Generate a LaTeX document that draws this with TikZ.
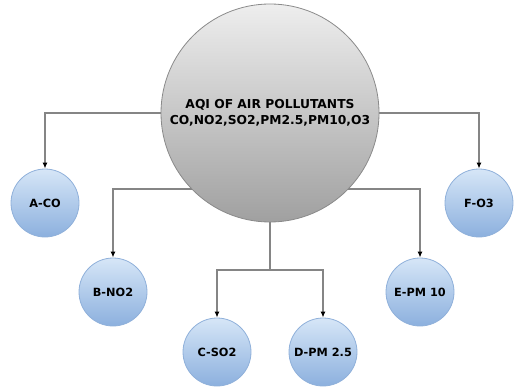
\documentclass[tikz,border=0pt]{standalone}
\usepackage{fontspec}
\setmainfont{DejaVu Sans}
\usetikzlibrary{arrows.meta,backgrounds}
\definecolor{bigtop}{HTML}{EEEEEE}
\definecolor{bigbot}{HTML}{A0A0A0}
\definecolor{bigedge}{HTML}{8A8A8A}
\definecolor{smtop}{HTML}{D6E6F7}
\definecolor{smbot}{HTML}{8CB0DE}
\definecolor{smedge}{HTML}{8FB0DA}
\definecolor{linec}{HTML}{858585}
\tikzset{
  bigcirc/.style={circle, draw=bigedge, line width=0.8pt, top color=bigtop, bottom color=bigbot, minimum size=218pt, inner sep=0pt, align=center, font=\fontsize{12.3pt}{16.5pt}\bfseries},
  smcirc/.style={circle, draw=smedge, line width=0.8pt, top color=smtop, bottom color=smbot, minimum size=68pt, inner sep=0pt, font=\fontsize{11.3pt}{13pt}\bfseries},
  conn/.style={draw=linec, line width=1.3pt, -{Latex[length=6pt,width=5pt,color=black]}},
  plain/.style={draw=linec, line width=1.3pt}
}
\begin{document}
\begin{tikzpicture}[x=1pt,y=-1pt]
\useasboundingbox (0,0) rectangle (518,387);
\node[bigcirc] (big) at (270,113) {AQI OF AIR POLLUTANTS\\CO,NO2,SO2,PM2.5,PM10,O3};
\node[smcirc] (a) at (45,203) {A-CO};
\node[smcirc] (b) at (113,292) {B-NO2};
\node[smcirc] (c) at (217,352) {C-SO2};
\node[smcirc] (d) at (323,352) {D-PM 2.5};
\node[smcirc] (e) at (420,292) {E-PM 10};
\node[smcirc] (f) at (479,203) {F-O3};
\coordinate (jb) at (270,189);
\coordinate (jc) at (270,270);
\begin{pgfonlayer}{background}
\draw[conn] (big.center) -| (a.north);
\draw[conn] (big.center) -| (f.north);
\draw[conn] (jb) -| (b.north);
\draw[conn] (jb) -| (e.north);
\draw[plain] (big.center) -- (jc);
\draw[conn] (jc) -| (c.north);
\draw[conn] (jc) -| (d.north);
\end{pgfonlayer}
\end{tikzpicture}
\end{document}
